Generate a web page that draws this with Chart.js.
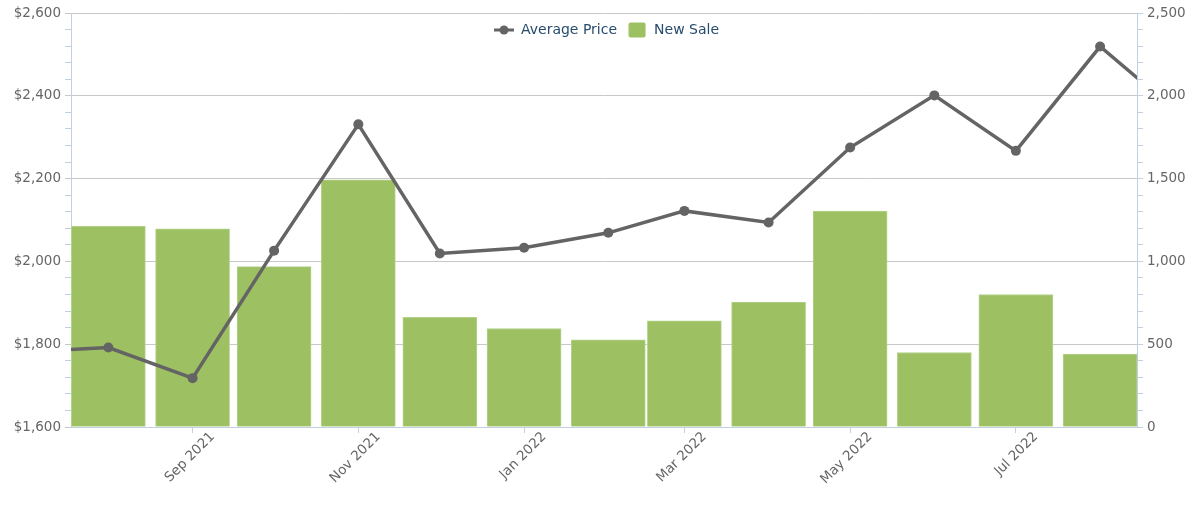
<!DOCTYPE html>
<html>
<head>
<meta charset="utf-8">
<script src="https://cdn.jsdelivr.net/npm/chart.js@4.4.1/dist/chart.umd.min.js"></script>
<style>
html, body { margin: 0; padding: 0; background: #fff; }
#wrap { width: 1200px; height: 505px; position: relative; }
</style>
</head>
<body>
<div id="wrap"><canvas id="chart"></canvas></div>
<script>
// monthly data, line runs one month past each edge of the plot
const lineMonths = ['2021-07', '2021-08', '2021-09', '2021-10', '2021-11', '2021-12', '2022-01',
    '2022-02', '2022-03', '2022-04', '2022-05', '2022-06', '2022-07', '2022-08', '2022-09'];
const avgPrice = [1781, 1792, 1718, 2026, 2331, 2019, 2033, 2069, 2122, 2094, 2275, 2401, 2267, 2519, 2347];

const barMonths = ['2021-08', '2021-09', '2021-10', '2021-11', '2021-12', '2022-01',
    '2022-02', '2022-03', '2022-04', '2022-05', '2022-06', '2022-07', '2022-08'];
const newSale = [1212, 1197, 968, 1492, 663, 595, 526, 641, 754, 1304, 450, 800, 441];

const tickMonths = ['2021-09', '2021-11', '2022-01', '2022-03', '2022-05', '2022-07'];
const tickLabels = ['Sep 2021', 'Nov 2021', 'Jan 2022', 'Mar 2022', 'May 2022', 'Jul 2022'];

const lineColor = '#646464';
const barColor = '#9dc062';
const axisColor = '#c0d0e0';
const gridColor = '#c8c8c8';
const FONT = '"DejaVu Sans", Verdana, sans-serif';

function toDay(ym) {
    const [y, m] = ym.split('-').map(Number);
    return Date.UTC(y, m - 1, 1) / 864e5;
}

function lineIcon() {
    const c = document.createElement('canvas');
    c.width = 22; c.height = 12;
    const g = c.getContext('2d');
    g.strokeStyle = lineColor; g.lineWidth = 3;
    g.beginPath(); g.moveTo(1, 6); g.lineTo(21, 6); g.stroke();
    g.fillStyle = lineColor;
    g.beginPath(); g.arc(11, 6, 4.5, 0, Math.PI * 2); g.fill();
    return c;
}

function boxIcon() {
    const c = document.createElement('canvas');
    c.width = 18; c.height = 16;
    const g = c.getContext('2d');
    g.fillStyle = barColor;
    g.beginPath(); g.roundRect(0.5, 0.5, 17, 15, 2); g.fill();
    return c;
}

// legend sits over the plot instead of pushing it down
const legendOverlay = {
    id: 'legendOverlay',
    afterInit(chart) {
        const legend = chart.legend;
        const fit = legend.fit;
        legend.fit = function () {
            fit.call(this);
            this._realHeight = this.height;
            this.height = 0;
        };
    },
    afterLayout(chart) {
        const legend = chart.legend;
        legend.height = legend._realHeight;
        legend.bottom = legend.top + legend._realHeight;
    }
};

new Chart(document.getElementById('chart'), {
    type: 'line',
    data: {
        datasets: [
            {
                type: 'line',
                label: 'Average Price',
                data: lineMonths.map((m, i) => ({ x: toDay(m), y: avgPrice[i] })),
                yAxisID: 'y',
                borderColor: lineColor,
                backgroundColor: lineColor,
                borderWidth: 3.5,
                pointRadius: 5,
                pointBorderWidth: 0,
                pointBackgroundColor: lineColor,
                tension: 0,
                clip: 0
            },
            {
                type: 'bar',
                label: 'New Sale',
                data: barMonths.map((m, i) => ({ x: toDay(m), y: newSale[i] })),
                yAxisID: 'y1',
                backgroundColor: barColor,
                borderColor: '#b3d38a',
                borderWidth: 1,
                barThickness: 74
            }
        ]
    },
    options: {
        responsive: true,
        maintainAspectRatio: false,
        animation: false,
        layout: { padding: { top: 13, left: 13, right: 0, bottom: 0 } },
        plugins: {
            tooltip: { enabled: false },
            legend: {
                position: 'top',
                labels: {
                    color: '#274b6d',
                    font: { family: FONT, size: 14 },
                    usePointStyle: true,
                    pointStyleWidth: 20,
                    padding: 10,
                    generateLabels(chart) {
                        const items = Chart.defaults.plugins.legend.labels.generateLabels(chart);
                        items[0].pointStyle = lineIcon();
                        items[1].pointStyle = boxIcon();
                        return items;
                    }
                }
            }
        },
        scales: {
            x: {
                type: 'linear',
                offset: false,
                min: Date.UTC(2021, 6, 18, 6) / 864e5,
                max: Date.UTC(2022, 7, 14, 14) / 864e5,
                afterBuildTicks(scale) {
                    scale.ticks = tickMonths.map(m => ({ value: toDay(m) }));
                },
                afterFit(scale) { scale.height = 78; },
                ticks: {
                    autoSkip: false,
                    minRotation: 45,
                    maxRotation: 45,
                    labelOffset: 20,
                    padding: -4,
                    color: '#666',
                    font: { family: FONT, size: 13.5 },
                    callback: (v, i) => tickLabels[i]
                },
                grid: { offset: false, drawOnChartArea: false, tickLength: 6, tickColor: axisColor },
                border: { color: axisColor }
            },
            y: {
                position: 'left',
                min: 1600,
                max: 2600,
                afterFit(scale) { scale.width = 58; },
                ticks: {
                    stepSize: 40,
                    autoSkip: false,
                    padding: 4,
                    color: '#666',
                    font: { family: FONT, size: 13.5 },
                    callback: v => v % 200 === 0 ? '$' + v.toLocaleString('en-US') : ''
                },
                grid: {
                    tickLength: 6,
                    color: ctx => ctx.tick && ctx.tick.value % 200 === 0 ? gridColor : 'rgba(0,0,0,0)',
                    tickColor: ctx => ctx.tick && ctx.tick.value % 200 === 0 ? gridColor : axisColor
                },
                border: { color: axisColor }
            },
            y1: {
                position: 'right',
                min: 0,
                max: 2500,
                afterFit(scale) { scale.width = 63; },
                ticks: {
                    stepSize: 100,
                    autoSkip: false,
                    padding: 4,
                    color: '#666',
                    font: { family: FONT, size: 13.5 },
                    callback: v => v % 500 === 0 ? v.toLocaleString('en-US') : ''
                },
                grid: { drawOnChartArea: false, tickLength: 6, tickColor: axisColor },
                border: { color: axisColor }
            }
        }
    },
    plugins: [legendOverlay]
});
</script>
</body>
</html>
